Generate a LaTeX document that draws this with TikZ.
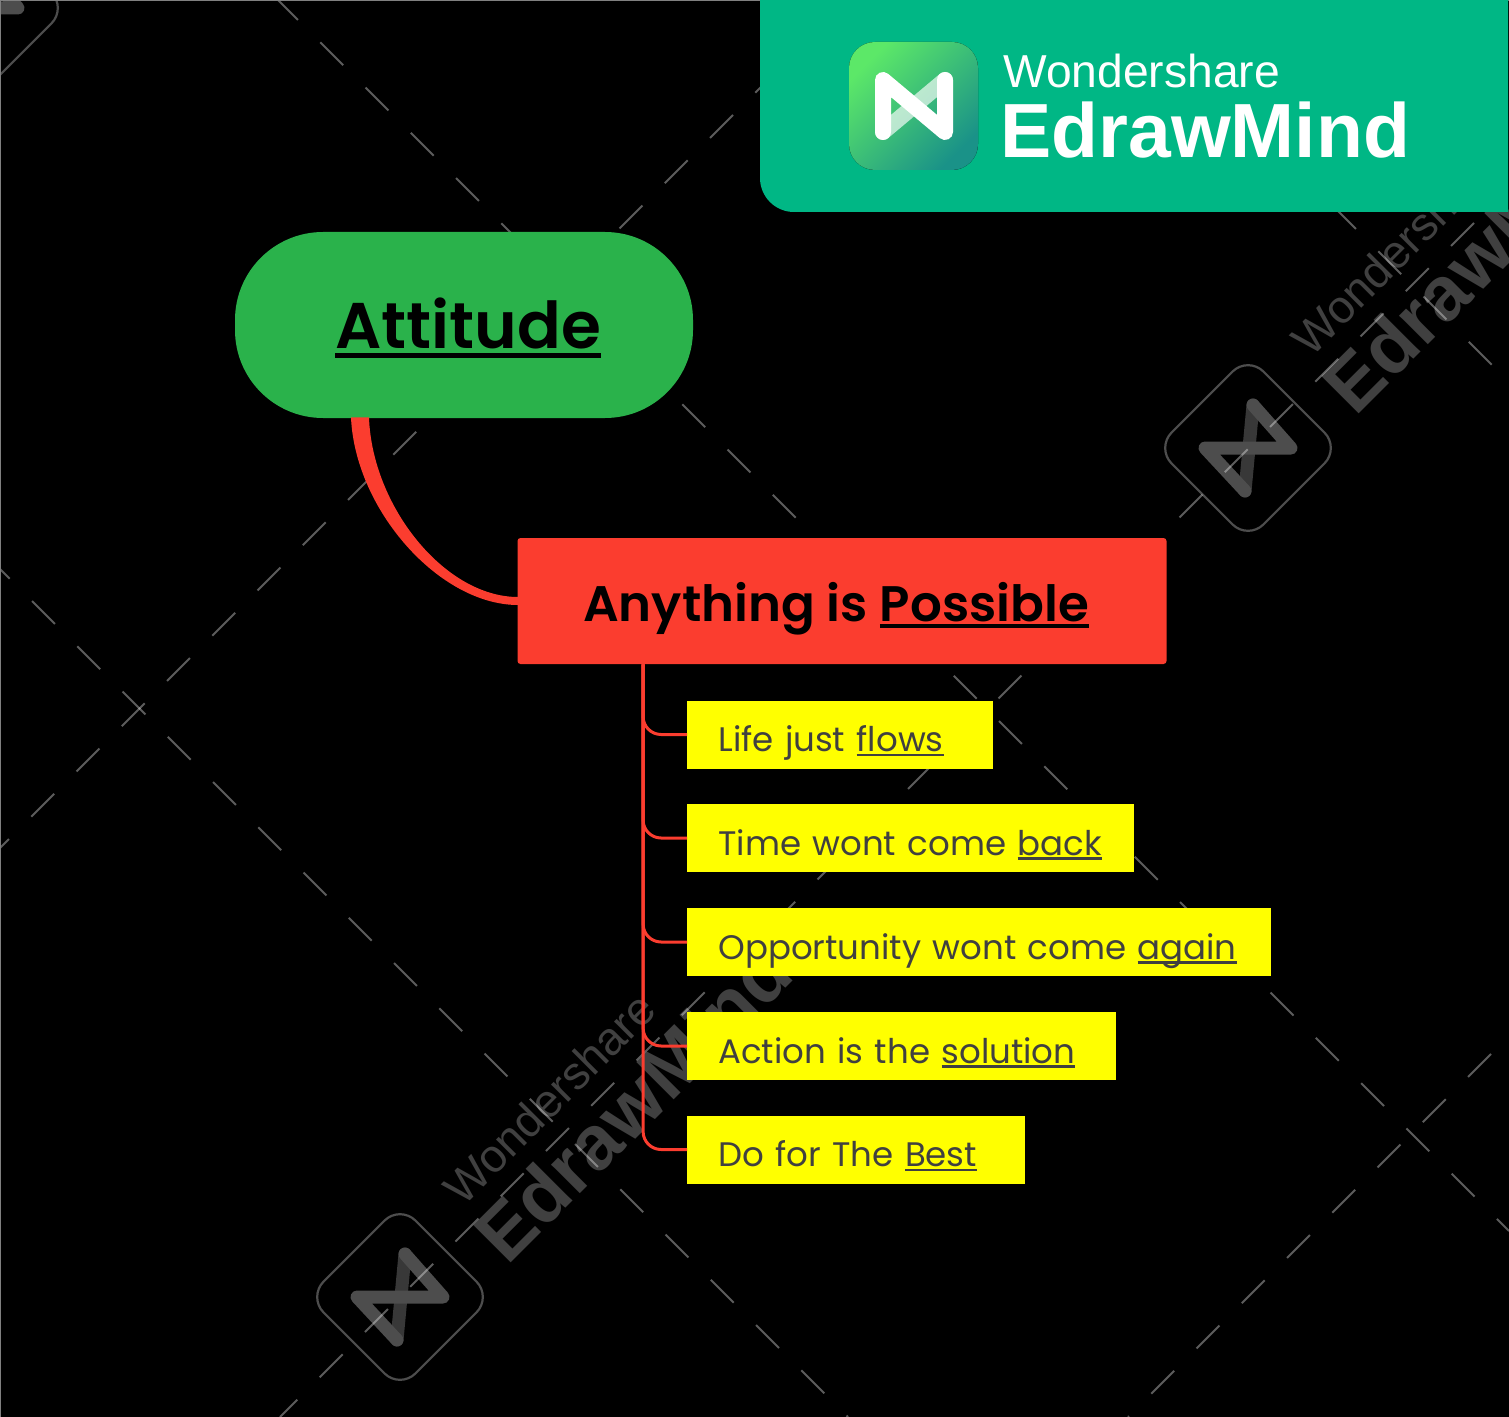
\documentclass[tikz,border=0pt]{standalone}
\usepackage{fontspec}
\setmainfont{Poppins}
\newfontfamily\logofont{Liberation Sans}
\newfontfamily\topicfont{Poppins SemiBold}
\usetikzlibrary{calc,positioning}
\definecolor{topicgreen}{HTML}{2AB24B}
\definecolor{branchred}{HTML}{FB3D2F}
\definecolor{bannergreen}{HTML}{00B785}
\definecolor{leafyellow}{HTML}{FFFF00}
\definecolor{leafink}{HTML}{404040}
\definecolor{markgrey}{HTML}{404040}
\definecolor{markbar}{HTML}{4D4D4D}
\definecolor{markcross}{HTML}{383838}
\definecolor{edgegrey}{HTML}{808080}
\definecolor{logolight}{HTML}{5CE868}
\definecolor{logodark}{HTML}{1A9288}
\newcommand{\ulword}[1]{\setbox0\hbox{#1}\rlap{\rule[-.14em]{\wd0}{.08em}}\box0}
\newcommand{\wmark}[2]{%
	\begin{scope}[shift={(#1,#2)}]
		\draw[markbar,line width=1.1pt,rotate=45,rounded corners=11pt] (-65,-65) rectangle (65,65);
		\draw[markcross,line width=6.5pt,line cap=round] (5,-43) -- (-3,43);
		\draw[markbar,line width=6.5pt,line cap=round,line join=round] (5,-43) -- (43,0) -- (-43,0) -- (-3,43);
		\node[rotate=45,anchor=base west,text=markgrey,inner sep=0pt,font=\logofont\fontsize{23.1pt}{26pt}\selectfont] at (63,-89) {Wondershare};
		\node[rotate=45,anchor=base west,text=markgrey,inner sep=0pt,font=\logofont\bfseries\fontsize{38.4pt}{42pt}\selectfont] at (107,-30) {EdrawMind};
	\end{scope}}
\tikzset{
	dashline/.style={white,opacity=.36,line width=1pt,dash pattern=on 16.2pt off 15.8pt},
	leaf/.style={fill=leafyellow,text=leafink,anchor=west,inner sep=0pt,text width=#1,text height=25.5pt,text depth=8.5pt,execute at begin node={\hspace*{15.5pt}},font=\fontsize{17pt}{22pt}\selectfont},
	branch/.style={branchred,line width=1.5pt,rounded corners=9pt}
}
\begin{document}
\begin{tikzpicture}[x=0.5pt,y=-0.5pt]
	\fill[black] (0,0) rectangle (1509,1417);
	\clip (0,0) rectangle (1509,1417);

	% dashed grid
	\wmark{400}{1297}
	\wmark{1248}{448}
	\wmark{-25}{8}
	\draw[dashline] (-13.25,555.75) -- (848,1417);
	\draw[dashline] (275,-3) -- (1509,1231);
	\draw[dashline] (1333,206) -- (1509,382);
	\draw[dashline] (778.25,69.75) -- (0,848);
	\draw[dashline] (1474,223) -- (280,1417);
	\draw[dashline] (1491,1054) -- (1128,1417);
	\draw[edgegrey,line width=.5pt] (0.5,1417) -- (0.5,0.5) -- (1509,0.5);

	% banner
	\fill[bannergreen] (760,-40) [rounded corners=17pt] -- (760,212) [sharp corners] -- (1508,212) -- (1508,-40) -- cycle;
	\fill[left color=logolight,right color=logodark,shading angle=45,rounded corners=13pt] (849,42) rectangle (978,170);
	\draw[white,opacity=.65,line width=8pt,line cap=round] (945,80) -- (883,132);
	\draw[white,line width=8pt,line cap=round,line join=round] (883,132) -- (883,80) -- (945,132) -- (945,80);
	\node[anchor=base west,text=white,inner sep=0pt,font=\logofont\fontsize{23.1pt}{26pt}\selectfont] (wondershare) at (1003,88) {Wondershare};
	\node[anchor=base west,text=white,inner sep=0pt,font=\logofont\bfseries\fontsize{38.4pt}{42pt}\selectfont] (edrawmind) at (1000,158) {EdrawMind};

	% topics
	\node[fill=topicgreen,rounded corners=44pt,minimum width=229pt,minimum height=93pt,inner sep=0pt,text height=58.5pt,text depth=34.5pt,font=\topicfont\fontsize{32.3pt}{36pt}\selectfont] (attitude) at (464,325) {\hspace*{4pt}\ulword{Attitude}};
	\node[fill=branchred,rounded corners=1.5pt,minimum width=324.5pt,minimum height=63pt,inner sep=0pt,text height=41.5pt,text depth=21.5pt,font=\topicfont\fontsize{24.95pt}{28pt}\selectfont] (possible) at (842,601) {Anything is \ulword{Possible}\hspace*{6pt}};

	\node[leaf=153pt] (life) at (687,734.5) {Life just \ulword{flows}};
	\node[leaf=223.5pt] (time) at (687,838) {Time wont come \ulword{back}};
	\node[leaf=292pt] (chance) at (687,942) {Opportunity wont come \ulword{again}};
	\node[leaf=214.5pt] (action) at (687,1046) {Action is the \ulword{solution}};
	\node[leaf=169pt] (best) at (687,1149.5) {Do for The \ulword{Best}};

	% connectors
	\fill[branchred] ($(attitude.south)+(-113,-1)$) .. controls +(4,92) and ($(possible.west)+(-78,4)$) .. ($(possible.west)+(1,4)$)
		-- ($(possible.west)+(1,-4)$) .. controls ($(possible.west)+(-73,-4)$) and ($(attitude.south)+(-92,87)$) .. ($(attitude.south)+(-95,-1)$) -- cycle;
	\coordinate (stem) at ($(possible.south west)+(126,0)$);
	\foreach \leafname in {life,time,chance,action,best}
		\draw[branch] (stem) |- (\leafname.west);
\end{tikzpicture}
\end{document}
